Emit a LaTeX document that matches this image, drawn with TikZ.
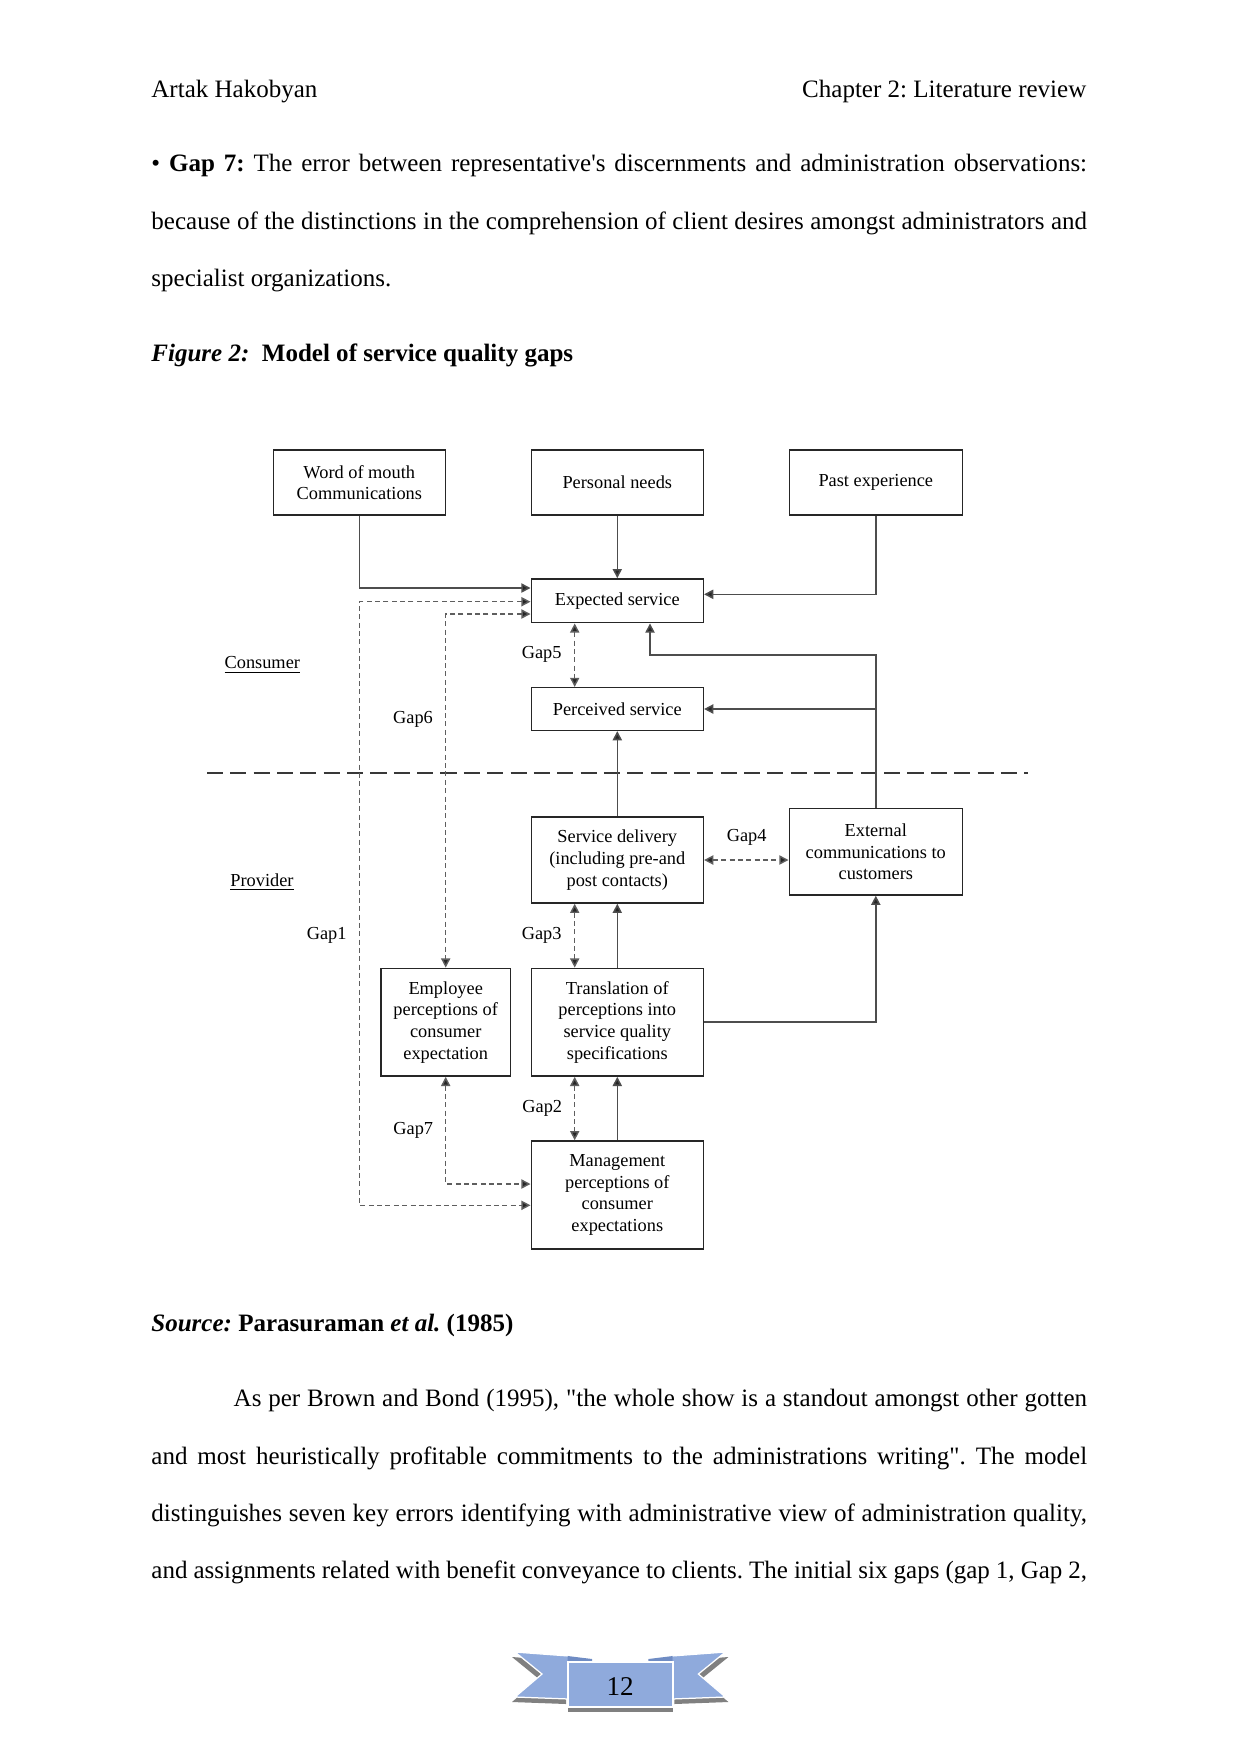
\documentclass[tikz,border=0pt]{standalone}
\usepackage{fontspec}
\setmainfont{Liberation Serif}[Ligatures=TeXOff]
\usetikzlibrary{arrows.meta,calc}
\newlength\pxu
\setlength\pxu{0.47967pt}
\definecolor{boxLine}{HTML}{262626}
\definecolor{flowLine}{HTML}{4D4D4D}
\definecolor{gapLine}{HTML}{5E5E5E}
\definecolor{ribbonBlue}{HTML}{8FAADC}
\definecolor{ribbonFold}{HTML}{6F8CC4}
\definecolor{ribbonShade}{HTML}{808080}
\newcommand\diagfont{\fontsize{8.8}{10.4}\selectfont}
\newcommand\bodyfont{\fontsize{12}{14}\selectfont}
\frenchspacing

\begin{document}
\begin{tikzpicture}[x=0.47967pt, y=-0.47967pt,
  box/.style={draw=boxLine, line width=0.75pt, align=center, font=\diagfont,
    inner sep=1pt, minimum width=172\pxu},
  flow/.style={draw=flowLine, line width=0.75pt, -{Triangle[length=4.4pt,width=4.4pt,fill=black!85]}},
  gapflow/.style={draw=gapLine, line width=0.7pt, dash pattern=on 2.4pt off 1.6pt,
    {Triangle[length=4.4pt,width=4.4pt,fill=black!85]}-{Triangle[length=4.4pt,width=4.4pt,fill=black!85]}},
  divider/.style={draw=black!78, line width=1.1pt, dash pattern=on 7.7pt off 3.5pt},
  gaplbl/.style={font=\diagfont, inner sep=0pt},
  side/.style={font=\diagfont, inner sep=0pt},
  textline/.style={font=\bodyfont, inner sep=0pt, anchor=base west}]
\path[use as bounding box, fill=white] (0,0) rectangle (1241,1754);

% page text
\node[textline] (author) at (151,97.5) {Artak Hakobyan};
\node[textline, anchor=base east] (chapter) at (1086.7,97.5) {Chapter 2: Literature review};
\node[textline] (gapA) at (151,171.7)
  {\makebox[935.7\pxu][s]{• \textbf{Gap 7:} The error between representative's discernments and administration observations:}};
\node[textline] (gapB) at (151,229.3)
  {\makebox[935.7\pxu][s]{because of the distinctions in the comprehension of client desires amongst administrators and}};
\node[textline] (gapC) at (151,286.7) {specialist organizations.};
\node[textline] (caption) at (151,361.7)
  {\textbf{\textit{Figure 2:}}\ \ \textbf{Model of service quality gaps}};

% boxes
\node[box, minimum height=65\pxu] (wom) at (359.3,482.5) {Word of mouth\\Communications};
\node[box, minimum height=65\pxu] (needs) at (617.3,482.5) {Personal needs};
\node[box, minimum height=65\pxu, minimum width=173\pxu] (past) at (875.8,482.5) {Past experience};
\node[box, minimum height=43.7\pxu] (expected) at (617.3,600.8) {Expected service};
\node[box, minimum height=42.6\pxu] (perceived) at (617.3,709) {Perceived service};
\node[box, minimum height=86\pxu] (delivery) at (617.3,860)
  {Service delivery\\(including pre-and\\post contacts)};
\node[box, minimum height=86.3\pxu, minimum width=173\pxu] (external) at (875.8,851.8)
  {External\\communications to\\customers};
\node[box, minimum height=107.7\pxu, minimum width=129.3\pxu] (employee) at (445.7,1022.2)
  {Employee\\perceptions of\\consumer\\expectation};
\node[box, minimum height=107.7\pxu] (translation) at (617.3,1022.2)
  {Translation of\\perceptions into\\service quality\\specifications};
\node[box, minimum height=108\pxu] (management) at (617.3,1195)
  {Management\\perceptions of\\consumer\\expectations};

% consumer / provider divide
\coordinate (divL) at (207,773.3);
\coordinate (divR) at (1028.3,773.3);
\draw[divider] (divL) -- (divR);
\node[side] (consumer) at (262.3,665) {\underline{Consumer}};
\node[side] (provider) at (262,882.3) {\underline{Provider}};

% solid links
\draw[flow] (wom.south) |- ($(expected.west)+(0,-12.8)$);
\draw[flow] (needs.south) -- (expected.north);
\draw[flow] (past.south) |- ($(expected.east)+(0,-6.5)$);
\coordinate (fb) at (875.8,655);
\draw[flow] (external.north) -- (fb) -| ($(expected.south)+(32.7,0)$);
\draw[flow] (external.north |- perceived.east) -- (perceived.east);
\draw[flow] (delivery.north) -- (perceived.south);
\draw[flow] (translation.north) -- (delivery.south);
\draw[flow] (management.north) -- (translation.south);
\draw[flow] (translation.east) -| (external.south);

% gaps
\draw[gapflow] ($(expected.south)+(-42.6,0)$) -- ($(perceived.north)+(-42.6,0)$);
\draw[gapflow] ($(delivery.south)+(-42.6,0)$) -- ($(translation.north)+(-42.6,0)$);
\draw[gapflow] ($(translation.south)+(-42.6,0)$) -- ($(management.north)+(-42.6,0)$);
\draw[gapflow] (delivery.east) -- (delivery.east -| external.west);
\coordinate (g1) at (359.3,900);
\draw[gapflow] ($(expected.west)+(0,0.9)$) -| (g1) |- ($(management.west)+(0,10.3)$);
\draw[gapflow] ($(expected.west)+(0,13.2)$) -| (employee.north);
\draw[gapflow] (employee.south) |- ($(management.west)+(0,-11)$);
\foreach \n/\x/\y in {5/541.7/654, 6/413/719, 1/326.7/935, 3/541.7/935,
                      4/746.7/837.3, 2/542.3/1108.3, 7/413.3/1130}
  \node[gaplbl] (gap\n) at (\x,\y) {Gap\n};

% source and following paragraph
\node[textline] (source) at (151,1331.7)
  {\textbf{\textit{Source:} Parasuraman \textit{et al.} (1985)}};
\node[textline] (paraA) at (233.3,1406.7)
  {\makebox[853.4\pxu][s]{As per Brown and Bond (1995), "the whole show is a standout amongst other gotten}};
\node[textline] (paraB) at (151,1464)
  {\makebox[935.7\pxu][s]{and most heuristically profitable commitments to the administrations writing". The model}};
\node[textline] (paraC) at (151,1521.3)
  {\makebox[935.7\pxu][s]{distinguishes seven key errors identifying with administrative view of administration quality,}};
\node[textline] (paraD) at (151,1578.6)
  {\makebox[935.7\pxu][s]{and assignments related with benefit conveyance to clients. The initial six gaps (gap 1, Gap 2,}};

% page ribbon
\fill[ribbonShade] (512,1657) -- (566,1661) -- (566,1704) -- (512,1702) -- (539,1679) -- cycle;
\fill[ribbonShade] (728.4,1657) -- (674.4,1661) -- (674.4,1704) -- (728.4,1702) -- (701.4,1679) -- cycle;
\fill[ribbonShade] (567.7,1667) rectangle (672.7,1712);
\filldraw[fill=ribbonBlue, draw=white, line width=0.6pt]
  (515,1652) -- (569,1656) -- (569,1699) -- (515,1697) -- (542,1674) -- cycle;
\filldraw[fill=ribbonBlue, draw=white, line width=0.6pt]
  (725.4,1652) -- (671.4,1656) -- (671.4,1699) -- (725.4,1697) -- (698.4,1674) -- cycle;
\fill[ribbonFold] (567.7,1656) -- (592,1659) -- (592,1662) -- (567.7,1662) -- cycle;
\fill[ribbonFold] (672.7,1656) -- (648.4,1659) -- (648.4,1662) -- (672.7,1662) -- cycle;
\filldraw[fill=ribbonBlue, draw=white, line width=0.8pt] (567.7,1661.7) rectangle (672.7,1706.7);
\node[font=\fontsize{13}{15}\selectfont, inner sep=0pt] (pagenum) at (620.2,1687) {12};
\end{tikzpicture}
\end{document}
